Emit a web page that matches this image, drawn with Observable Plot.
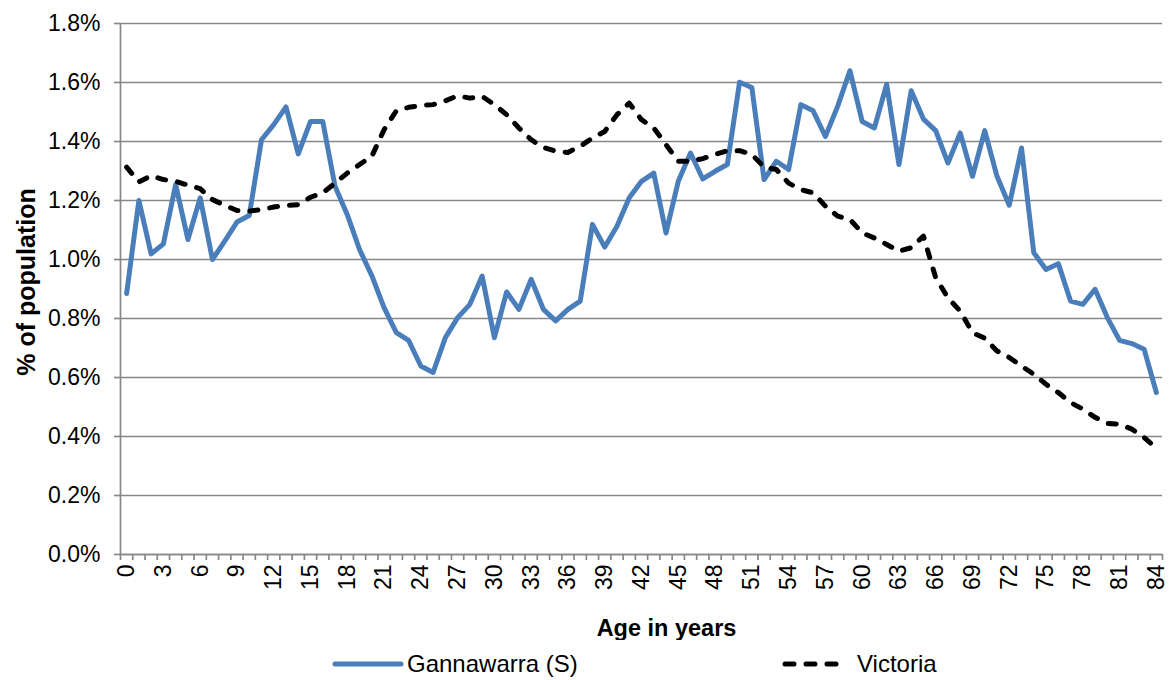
<!DOCTYPE html>
<html>
<head>
<meta charset="utf-8">
<script src="https://cdn.jsdelivr.net/npm/d3@7"></script>
<script src="https://cdn.jsdelivr.net/npm/@observablehq/plot@0.6"></script>
<style>
  html, body { margin: 0; padding: 0; background: #fff; }
  body { font-family: "Liberation Sans", Arial, sans-serif; }
  #wrap { position: relative; width: 1173px; height: 680px; overflow: hidden; }
  #legend { position: absolute; left: 0; top: 647px; width: 1173px; height: 34px; }
  .item { position: absolute; top: 0; height: 34px; display: flex; align-items: center; font-size: 24px; color: #000; }
  .item svg { margin-right: 3px; }
</style>
</head>
<body>
<div id="wrap">
  <div id="chart"></div>
  <div id="legend"></div>
</div>
<script>
// ---- data ----
const ages = [0,1,2,3,4,5,6,7,8,9,10,11,12,13,14,15,16,17,18,19,20,21,22,23,24,25,26,27,28,29,30,31,32,33,34,35,36,37,38,39,40,41,42,43,44,45,46,47,48,49,50,51,52,53,54,55,56,57,58,59,60,61,62,63,64,65,66,67,68,69,70,71,72,73,74,75,76,77,78,79,80,81,82,83,84];
const gannawarra = [0.885,1.20,1.019,1.053,1.254,1.068,1.209,1.0,1.062,1.127,
  1.149,1.406,1.457,1.517,1.358,1.468,1.468,1.248,1.152,1.034,
  0.945,0.837,0.752,0.726,0.639,0.617,0.735,0.803,0.848,0.944,
  0.735,0.89,0.831,0.933,0.831,0.792,0.831,0.859,1.119,1.042,
  1.113,1.209,1.265,1.293,1.09,1.265,1.361,1.273,1.299,1.322,
  1.601,1.583,1.271,1.333,1.305,1.525,1.504,1.417,1.519,1.64,
  1.468,1.446,1.594,1.322,1.572,1.476,1.437,1.327,1.429,1.282,
  1.437,1.282,1.184,1.378,1.023,0.966,0.986,0.859,0.848,0.899,
  0.803,0.726,0.715,0.696,0.549];
const victoria = [1.313,1.263,1.284,1.271,1.265,1.252,1.24,1.203,1.184,1.166,
  1.164,1.169,1.178,1.183,1.186,1.211,1.226,1.259,1.293,1.322,
  1.35,1.44,1.504,1.516,1.522,1.525,1.538,1.555,1.547,1.553,
  1.525,1.491,1.446,1.406,1.38,1.367,1.363,1.384,1.412,1.434,
  1.491,1.53,1.474,1.446,1.389,1.333,1.333,1.342,1.356,1.369,
  1.369,1.356,1.313,1.305,1.259,1.237,1.226,1.181,1.147,1.136,
  1.09,1.073,1.051,1.028,1.04,1.079,0.938,0.87,0.825,0.752,
  0.733,0.69,0.668,0.639,0.611,0.577,0.549,0.515,0.493,0.465,
  0.444,0.442,0.425,0.397,0.36];
const seriesNames = ["Gannawarra (S)", "Victoria"];
const yTicks = [0, 0.2, 0.4, 0.6, 0.8, 1.0, 1.2, 1.4, 1.6, 1.8];
const xLabelAges = [0,3,6,9,12,15,18,21,24,27,30,33,36,39,42,45,48,51,54,57,60,63,66,69,72,75,78,81,84];

// ---- styles ----
const BLUE = "#4A7EBB";
const GRID = "#888888";
const FONT = "Liberation Sans, Arial, sans-serif";

const table = ages.map((a, i) => ({age: a, gan: gannawarra[i], vic: victoria[i]}));
const boundaries = ages.map(a => a - 0.5).concat([ages[ages.length - 1] + 0.5]);

const chart = Plot.plot({
  width: 1173,
  height: 640,
  marginTop: 23,
  marginBottom: 86,
  marginLeft: 120,
  marginRight: 11,
  style: {fontFamily: FONT, color: "#000", background: "#fff"},
  x: {type: "linear", domain: [ages[0] - 0.5, ages[ages.length - 1] + 0.5]},
  y: {domain: [0, 1.8]},
  marks: [
    Plot.gridY(yTicks, {stroke: GRID, strokeOpacity: 1, strokeWidth: 1.7}),
    Plot.ruleX([ages[0] - 0.5], {stroke: GRID, strokeWidth: 1.7}),
    Plot.ruleY([0], {stroke: GRID, strokeWidth: 1.7}),
    Plot.axisY(yTicks, {
      tickSize: 6, tickPadding: 14, stroke: GRID, strokeWidth: 1.7, fill: "#000",
      fontSize: 23, tickFormat: d => d.toFixed(1) + "%", label: null
    }),
    Plot.axisX(boundaries, {
      tickSize: 6, stroke: GRID, strokeWidth: 1.7, tickFormat: () => "", label: null
    }),
    Plot.axisX(xLabelAges, {
      tickSize: 0, tickPadding: 10, tickRotate: -90, fontSize: 23, fill: "#000", label: null
    }),
    Plot.text(["Age in years"], {
      frameAnchor: "bottom", textAnchor: "middle", lineAnchor: "middle",
      dx: 25, dy: 74, fontSize: 23.5, fontWeight: "bold", fill: "#000"
    }),
    Plot.text(["% of population"], {
      frameAnchor: "left", textAnchor: "middle", lineAnchor: "middle",
      dx: -94, dy: -7, rotate: -90, fontSize: 25, fontWeight: "bold", fill: "#000"
    }),
    Plot.lineY(table, {x: "age", y: "gan", stroke: BLUE, strokeWidth: 5, strokeLinejoin: "round", strokeLinecap: "round"}),
    Plot.lineY(table, {x: "age", y: "vic", stroke: "#000", strokeWidth: 5, strokeDasharray: "8,12", strokeLinecap: "round", strokeLinejoin: "round"})
  ]
});
document.getElementById("chart").appendChild(chart);

// ---- legend ----
const legend = document.getElementById("legend");
const items = [
  {name: seriesNames[0], left: 332, swatch: `<svg width="72" height="10"><line x1="3" y1="5" x2="69" y2="5" stroke="${BLUE}" stroke-width="5" stroke-linecap="round"/></svg>`},
  {name: seriesNames[1], left: 782, swatch: `<svg width="72" height="10"><line x1="3" y1="5" x2="66" y2="5" stroke="#000" stroke-width="5" stroke-dasharray="9,12" stroke-linecap="round"/></svg>`}
];
for (const it of items) {
  const d = document.createElement("div");
  d.className = "item";
  d.style.left = it.left + "px";
  d.innerHTML = it.swatch + `<span>${it.name}</span>`;
  legend.appendChild(d);
}
</script>
</body>
</html>
